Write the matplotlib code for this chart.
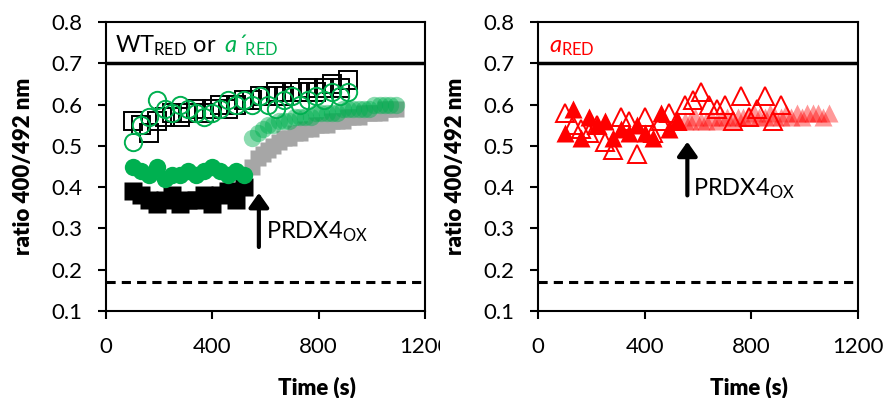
import matplotlib
matplotlib.use('Agg')
import matplotlib.pyplot as plt
from matplotlib.transforms import Bbox, TransformedBbox

plt.rcParams['font.family'] = ['Lato', 'DejaVu Sans']
plt.rcParams['mathtext.fontset'] = 'custom'
plt.rcParams['mathtext.rm'] = 'Lato'
plt.rcParams['mathtext.it'] = 'Lato:italic'
plt.rcParams['mathtext.bf'] = 'Lato:bold'

# time points (s)
t_before = [100, 130, 160, 190, 220, 250, 280, 310, 340, 370, 400, 430, 460, 490, 520]
t_after = [550, 570, 590, 610, 630, 650, 670, 690, 710, 730, 750, 770, 790, 810,
           830, 850, 870, 890, 910, 930, 950, 970, 990, 1010, 1030, 1050, 1070, 1090]
t_ox = [100, 130, 160, 190, 220, 250, 280, 310, 340, 370, 400, 430, 460, 490,
        520, 550, 580, 610, 640, 670, 700, 730, 760, 790, 820, 850, 880, 910]

# left panel: WT and a'
wt_red = [0.39, 0.38, 0.37, 0.36, 0.37, 0.38, 0.36, 0.37, 0.37, 0.38, 0.36, 0.38, 0.39, 0.37, 0.40]
wt_after = [0.45, 0.47, 0.48, 0.49, 0.50, 0.51, 0.52, 0.52, 0.53, 0.53, 0.54, 0.54, 0.55, 0.55,
            0.55, 0.56, 0.56, 0.56, 0.57, 0.57, 0.57, 0.58, 0.58, 0.58, 0.58, 0.59, 0.59, 0.59]
wt_ox = [0.56, 0.55, 0.53, 0.56, 0.57, 0.58, 0.57, 0.58, 0.59, 0.58, 0.59, 0.60, 0.59, 0.60,
         0.61, 0.61, 0.62, 0.62, 0.63, 0.62, 0.63, 0.63, 0.64, 0.63, 0.64, 0.65, 0.64, 0.66]
ap_red = [0.45, 0.44, 0.43, 0.45, 0.42, 0.43, 0.43, 0.44, 0.43, 0.44, 0.45, 0.44, 0.43, 0.44, 0.43]
ap_after = [0.52, 0.53, 0.54, 0.55, 0.55, 0.56, 0.56, 0.56, 0.57, 0.57, 0.57, 0.57, 0.58, 0.58,
            0.58, 0.58, 0.58, 0.59, 0.59, 0.59, 0.59, 0.59, 0.59, 0.60, 0.60, 0.60, 0.60, 0.60]
ap_ox = [0.51, 0.55, 0.57, 0.61, 0.59, 0.58, 0.60, 0.59, 0.58, 0.57, 0.58, 0.59, 0.61, 0.60,
         0.61, 0.60, 0.62, 0.60, 0.59, 0.61, 0.62, 0.60, 0.61, 0.62, 0.61, 0.63, 0.62, 0.63]

# right panel: a
a_red = [0.53, 0.59, 0.52, 0.57, 0.55, 0.56, 0.52, 0.54, 0.53, 0.55, 0.53, 0.52, 0.58, 0.54, 0.56]
a_after = [0.56, 0.56, 0.57, 0.56, 0.56, 0.57, 0.56, 0.57, 0.57, 0.56, 0.57, 0.57, 0.57, 0.58,
           0.57, 0.57, 0.58, 0.57, 0.57, 0.58, 0.57, 0.58, 0.57, 0.58, 0.58, 0.58, 0.57, 0.58]
a_ox = [0.58, 0.55, 0.54, 0.53, 0.55, 0.51, 0.49, 0.57, 0.56, 0.48, 0.57, 0.53, 0.56, 0.58,
        0.56, 0.60, 0.61, 0.63, 0.60, 0.59, 0.60, 0.56, 0.62, 0.57, 0.59, 0.62, 0.56, 0.60]

ox_level = 0.70
red_level = 0.17

green = '#00B050'
grey = '#A6A6A6'
red = '#FF0000'

fig = plt.figure(figsize=(8.88, 3.98), dpi=100)
ax1 = fig.add_axes([0.1194, 0.2186, 0.3592, 0.7261])
ax2 = fig.add_axes([0.6059, 0.2186, 0.3603, 0.7261])

ms = 12.5
# left panel
ax1.plot(t_after, wt_after, 's', color=grey, ms=ms - 1, mec='none')
ax1.plot(t_after, ap_after, 'o', color=green, ms=ms, mec='none', alpha=0.45)
ax1.plot(t_before, wt_red, 's', color='black', ms=ms, mec='none')
ax1.plot(t_before, ap_red, 'o', color=green, ms=ms, mec='none')
ax1.plot(t_ox, wt_ox, 's', mfc='none', mec='black', ms=ms, mew=1.4)
ax1.plot(t_ox, ap_ox, 'o', mfc='none', mec=green, ms=ms, mew=1.4)

# right panel
ax2.plot(t_after, a_after, '^', color=red, ms=ms, mec='none', alpha=0.4)
ax2.plot(t_before, a_red, '^', color=red, ms=ms + 1, mec='none')
ax2.plot(t_ox, a_ox, '^', mfc='none', mec=red, ms=ms + 1, mew=1.4)

for ax in (ax1, ax2):
    ax.axhline(ox_level, color='black', lw=2.5)
    ax.axhline(red_level, color='black', lw=2.2, ls=(0, (3, 2)))
    ax.set_xlim(0, 1200)
    ax.set_ylim(0.1, 0.8)
    ax.set_xticks([0, 400, 800, 1200])
    ax.set_yticks([0.1, 0.2, 0.3, 0.4, 0.5, 0.6, 0.7, 0.8])
    ax.set_yticklabels(['0.1', '0.2', '0.3', '0.4', '0.5', '0.6', '0.7', '0.8'])
    ax.tick_params(direction='out', length=6, width=1.5, labelsize=16)
    ax.tick_params(axis='x', pad=13)
    ax.tick_params(axis='y', pad=11)
    for s in ax.spines.values():
        s.set_linewidth(1.5)
    ax.set_xlabel('Time (s)', fontsize=16, fontweight='heavy')
    ax.xaxis.set_label_coords(0.66, -0.225)
    ax.set_ylabel('ratio 400/492 nm', fontsize=16, fontweight='heavy')
    ax.yaxis.set_label_coords(-0.225, 0.5)

# labels
t1 = ax1.text(34, 0.727, r'WT$_{\rm RED}$ or', fontsize=17, va='baseline')
ax1.annotate(r'$\mathit{a}$´$_{\rm RED}$', xy=(1, 0), xycoords=t1, va='bottom',
             xytext=(5, 0), textcoords='offset points',
             fontsize=17, color=green, style='italic')
ax2.text(40, 0.727, r'$\mathit{a}_{\rm RED}$', fontsize=17, color=red, va='baseline')

# PRDX4 arrows
arrow = dict(arrowstyle='-|>,head_width=0.6,head_length=0.85', lw=3, color='black',
             shrinkA=0, shrinkB=0)
ax1.annotate('', xy=(575, 0.386), xytext=(575, 0.255), arrowprops=arrow)
ax1.text(600, 0.275, r'PRDX4$_{\rm OX}$', fontsize=17, va='baseline')
ax2.annotate('', xy=(560, 0.51), xytext=(560, 0.38), arrowprops=arrow)
ax2.text(582, 0.381, r'PRDX4$_{\rm OX}$', fontsize=17, va='baseline')

# the left panel's last tick label is cut by the right panel
clip = TransformedBbox(Bbox([[0, 0], [440 / 888, 1]]), fig.transFigure)
lbl = ax1.get_xticklabels()[-1]
lbl.set_clip_box(clip)
lbl.set_clip_on(True)

fig.savefig('out.png', dpi=100)
